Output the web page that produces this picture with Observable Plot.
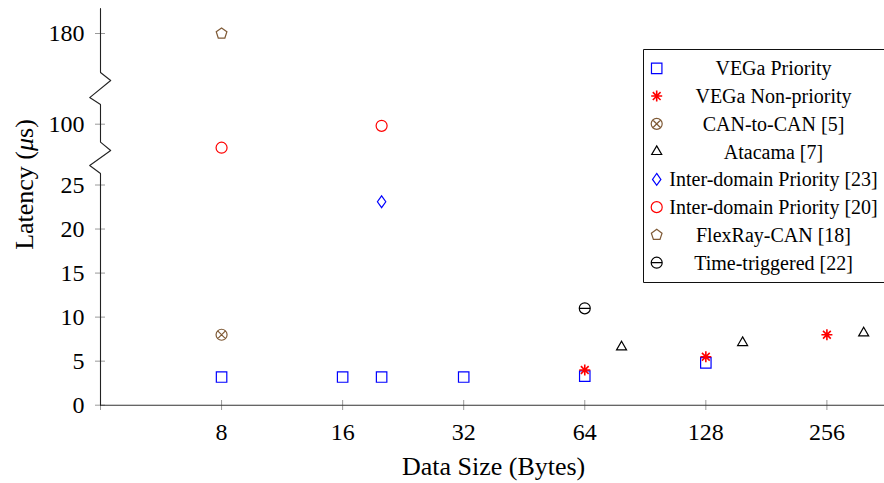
<!DOCTYPE html>
<html><head><meta charset="utf-8">
<script src="https://cdn.jsdelivr.net/npm/d3@7"></script>
<script src="https://cdn.jsdelivr.net/npm/@observablehq/plot@0.6"></script>
<style>
html,body{margin:0;padding:0;background:#fff;overflow:hidden}
#chart{position:relative;width:884px;height:483px}
</style></head><body><div id="chart"></div>
<script>
// ---- data ----
const xTicks = [4, 8, 16, 32, 64, 128, 256];
const yTicks = [0, 5, 10, 15, 20, 25, 100, 180];
const yScaleDomain = [0, 25, 100, 180, 202];

const vegaPriorityX = [8, 16, 20, 32, 64, 128];
const vegaPriorityY = [3.2, 3.2, 3.2, 3.2, 3.3, 4.8];
const vegaNonPriorityX = [64, 128, 256];
const vegaNonPriorityY = [4.0, 5.5, 8.0];
const canToCanX = [8];
const canToCanY = [8.0];
const atacamaX = [79, 158, 316];
const atacamaY = [6.6, 7.1, 8.2];
const interDomain23X = [20];
const interDomain23Y = [23.1];
const interDomain20X = [8, 20];
const interDomain20Y = [71, 98];
const flexRayX = [8];
const flexRayY = [180];
const timeTriggeredX = [64];
const timeTriggeredY = [11];

const seriesNames = ["VEGa Priority", "VEGa Non-priority", "CAN-to-CAN [5]", "Atacama [7]",
  "Inter-domain Priority [23]", "Inter-domain Priority [20]", "FlexRay-CAN [18]", "Time-triggered [22]"];

// axis break glyph (values along the y axis where the zigzag is drawn)
const axisBreakX = [4, 4, 4.24, 3.76, 4, 4, 4.24, 3.76, 4, 4];
const axisBreakY = [202, 145.6, 138.5, 123.5, 117.4, 77.8, 67.6, 49.1, 39.2, 0];

// ---- symbols ----
const R = s => Math.sqrt(s / Math.PI);
const squareSym = {draw(c, s){const h = R(s)*0.95; c.rect(-h, -h, 2*h, 2*h);}};
const circleSym = {draw(c, s){const r = R(s); c.moveTo(r, 0); c.arc(0, 0, r, 0, 2*Math.PI);}};
const asteriskSym = {draw(c, s){const r = R(s); for (let i = 0; i < 4; i++){const a = Math.PI/2 + i*Math.PI/4; c.moveTo(r*Math.cos(a), r*Math.sin(a)); c.lineTo(-r*Math.cos(a), -r*Math.sin(a));}}};
const otimesSym = {draw(c, s){const r = R(s); c.moveTo(r, 0); c.arc(0, 0, r, 0, 2*Math.PI); const k = r*Math.SQRT1_2; c.moveTo(-k, -k); c.lineTo(k, k); c.moveTo(-k, k); c.lineTo(k, -k);}};
const ominusSym = {draw(c, s){const r = R(s); c.moveTo(r, 0); c.arc(0, 0, r, 0, 2*Math.PI); c.moveTo(-r, 0); c.lineTo(r, 0);}};
const triangleSym = {draw(c, s){const a = R(s)*1.82; const h = a*Math.sqrt(3)/2; c.moveTo(0, -2*h/3); c.lineTo(a/2, h/3); c.lineTo(-a/2, h/3); c.closePath();}};
const diamondSym = {draw(c, s){const r = R(s); c.moveTo(0, -1.08*r); c.lineTo(0.76*r, 0); c.lineTo(0, 1.08*r); c.lineTo(-0.76*r, 0); c.closePath();}};
const pentagonSym = {draw(c, s){const r = R(s)*1.02; for (let i = 0; i < 5; i++){const a = -Math.PI/2 + i*2*Math.PI/5; const x = r*Math.cos(a), y = r*Math.sin(a); if (i) c.lineTo(x, y); else c.moveTo(x, y);} c.closePath();}};

const blue = "#0000ff", red = "#ff0000", brown = "#7f5a36", black = "#000000";

const series = [
  {x: vegaPriorityX, y: vegaPriorityY, symbol: squareSym, color: blue, w: 1.2},
  {x: vegaNonPriorityX, y: vegaNonPriorityY, symbol: asteriskSym, color: red, w: 1.6},
  {x: canToCanX, y: canToCanY, symbol: otimesSym, color: brown, w: 1.2},
  {x: atacamaX, y: atacamaY, symbol: triangleSym, color: black, w: 1.2},
  {x: interDomain23X, y: interDomain23Y, symbol: diamondSym, color: blue, w: 1.2},
  {x: interDomain20X, y: interDomain20Y, symbol: circleSym, color: red, w: 1.2},
  {x: flexRayX, y: flexRayY, symbol: pentagonSym, color: brown, w: 1.2},
  {x: timeTriggeredX, y: timeTriggeredY, symbol: ominusSym, color: black, w: 1.2}
].map((s, i) => ({...s, name: seriesNames[i], data: s.x.map((x, j) => ({x, y: s.y[j]}))}));

const plot = Plot.plot({
  width: 884, height: 483,
  marginLeft: 100, marginRight: 0, marginTop: 8, marginBottom: 78,
  style: {fontFamily: "'Liberation Serif', serif", fontSize: "24px", background: "white", overflow: "visible"},
  x: {type: "log", base: 2, domain: [4, 356]},
  y: {type: "linear", domain: yScaleDomain, range: [404.7, 184.5, 123.7, 33, 8]},
  marks: [
    Plot.axisX({ticks: xTicks, tickSize: 10, dy: -5, tickPadding: 12, stroke: "#9a9a9a", fill: "black",
      tickFormat: d => d === 4 ? "" : String(d), label: null, fontSize: 24}),
    Plot.axisY({ticks: yTicks, tickSize: 10, dx: 5, tickPadding: 11, stroke: "#9a9a9a", fill: "black",
      tickFormat: d => String(d), label: null, fontSize: 24}),
    Plot.ruleY([0], {stroke: "#333", strokeWidth: 1.1}),
    Plot.line(axisBreakX.map((x, i) => ({x, y: axisBreakY[i]})), {x: "x", y: "y", stroke: "#222", strokeWidth: 1.1}),
    ...series.map(s => Plot.dot(s.data, {x: "x", y: "y", symbol: s.symbol, r: 5.5, stroke: s.color, fill: "none", strokeWidth: s.w}))
  ]
});

document.getElementById("chart").appendChild(plot);

// ---- labels and legend ----
const svg = d3.select(plot);
const ylab = svg.append("text")
  .attr("transform", "translate(24,184.5) rotate(-90)")
  .attr("text-anchor", "middle").attr("dominant-baseline", "central")
  .style("font-family", "'Liberation Serif', serif").style("font-size", "26px").attr("fill", "black");
ylab.append("tspan").text("Latency (");
ylab.append("tspan").style("font-style", "italic").text("μ");
ylab.append("tspan").text("s)");

svg.append("text").attr("x", 493.6).attr("y", 475).attr("text-anchor", "middle")
  .style("font-family", "'Liberation Serif', serif").style("font-size", "26px").attr("fill", "black")
  .text("Data Size (Bytes)");

const lg = svg.append("g");
lg.append("rect").attr("x", 643.5).attr("y", 49.5).attr("width", 260).attr("height", 233).attr("fill", "white").attr("stroke", "none");
lg.append("path").attr("d", "M884,49.5H643.5V282.5H884").attr("fill", "none").attr("stroke", "#111").attr("stroke-width", 1);
series.forEach((s, i) => {
  const cy = 68.3 + i * 27.77;
  lg.append("path").attr("transform", `translate(656.7,${cy})`)
    .attr("d", d3.symbol(s.symbol, Math.PI * 5.5 * 5.5)())
    .attr("fill", "none").attr("stroke", s.color).attr("stroke-width", s.w);
  lg.append("text").attr("x", 773.5).attr("y", cy).attr("text-anchor", "middle").attr("dominant-baseline", "central")
    .style("font-family", "'Liberation Serif', serif").style("font-size", "20px").attr("fill", "black").text(s.name);
});
</script></body></html>
